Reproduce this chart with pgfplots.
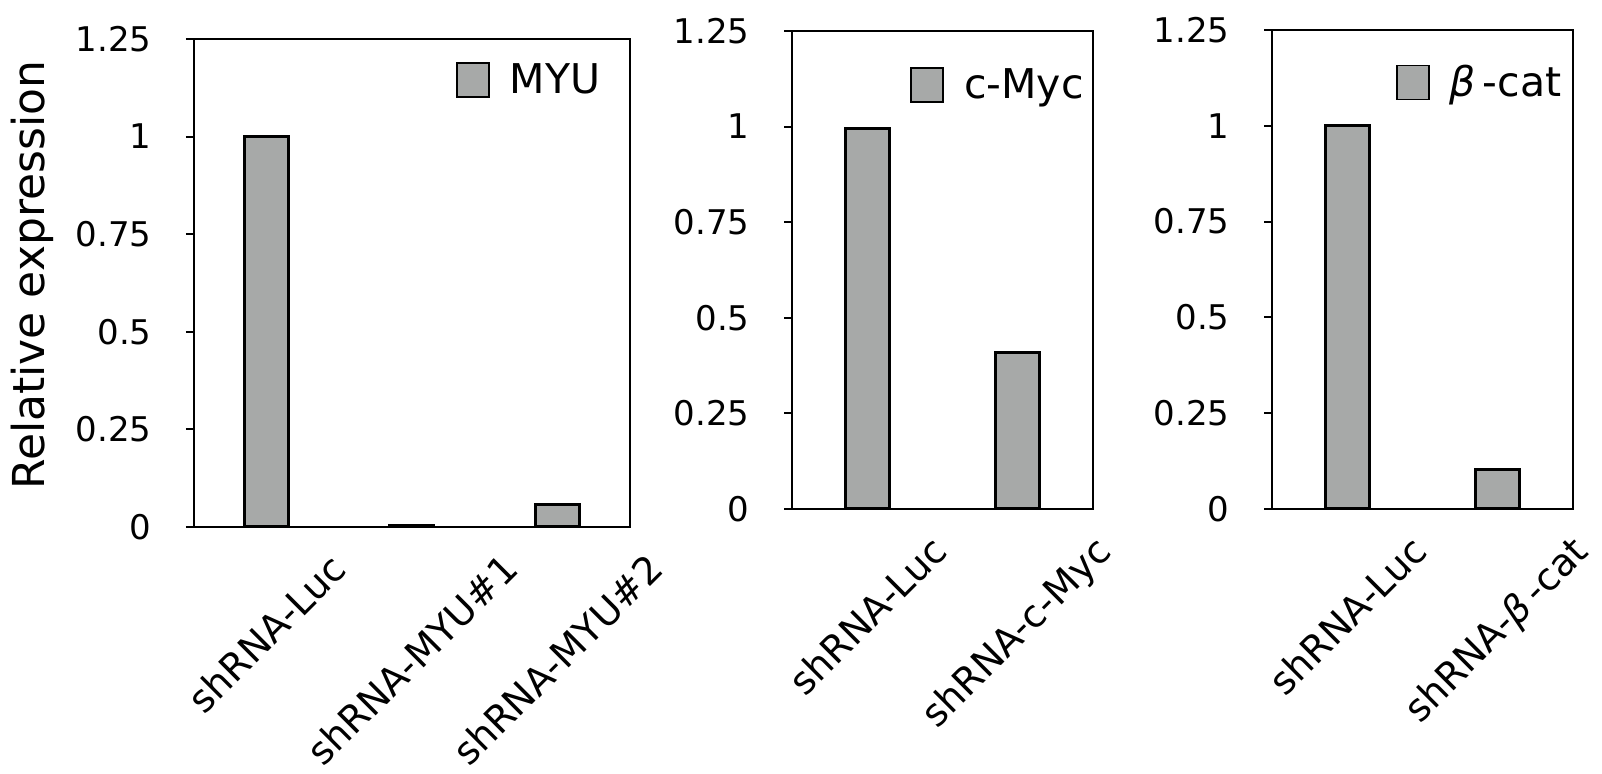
\documentclass[border=0pt]{standalone}
\usepackage{fontspec}
\setmainfont{DejaVu Sans}
\usepackage{graphicx}
\usepackage{pgfplots}
\pgfplotsset{compat=1.18}
\definecolor{barfill}{RGB}{167,169,168}

\pgfplotstableread{
x y
0 1.000
1 0.003
2 0.057
}\myudata
\pgfplotstableread{
x y
0 0.995
1 0.410
}\mycdata
\pgfplotstableread{
x y
0 1.000
1 0.102
}\bcatdata

\pgfplotsset{
  mylegend/.style={legend image code/.code={\draw[##1, line width=0.8pt] (0pt,-8.5pt) rectangle (16pt,8.5pt);}},
  panel/.style={
    scale only axis, anchor=south west,
    ybar, bar width=22pt,
    ymin=0, ymax=1.25,
    ytick={0,0.25,0.5,0.75,1,1.25},
    yticklabels={0,0.25,0.5,0.75,1,1.25},
    ytick pos=left, tick align=outside, major tick length=4pt,
    xtick=data, xtick style={draw=none},
    axis line style={line width=1pt},
    every tick/.style={line width=1pt, black},
    yticklabel style={font=\fontsize{17}{20}\selectfont, anchor=east, inner sep=0pt, xshift=-17pt},
    xticklabel style={font=\fontsize{19}{22}\selectfont, anchor=north, inner sep=0pt, yshift=-8pt},
    legend style={draw=none, fill=none, anchor=east, font=\fontsize{20.5}{24}\selectfont, inner sep=0pt, nodes={inner sep=0pt}, /tikz/every odd column/.append style={column sep=10pt}},
    mylegend,
  },
  barstyle/.style={fill=barfill, draw=black, line width=1.5pt},
}

\begin{document}
\begin{tikzpicture}
\path[use as bounding box] (0,0) rectangle (801pt,387pt);

\begin{axis}[panel, at={(97pt,123.5pt)}, width=218pt, height=244pt,
  xmin=-0.5, xmax=2.5,
  xticklabels={\rotatebox{45}{shRNA-Luc}, \rotatebox{45}{shRNA-MYU\#1}, \rotatebox{45}{shRNA-MYU\#2}},
  ylabel={Relative expression},
  every axis y label/.style={at={(rel axis cs:-0.3716,0.516)}, rotate=90, anchor=center, font=\fontsize{22}{26}\selectfont},
  legend style={at={(rel axis cs:0.933,0.916)}}]
\addplot[barstyle] table[x=x,y=y] {\myudata};
\addlegendentry{MYU}
\end{axis}

\begin{axis}[panel, at={(396pt,132.5pt)}, width=150.5pt, height=239pt,
  xmin=-0.5, xmax=1.5,
  xticklabels={\rotatebox{45}{shRNA-Luc}, \rotatebox{45}{shRNA-c-Myc}},
  legend style={at={(rel axis cs:0.970,0.887)}}]
\addplot[barstyle] table[x=x,y=y] {\mycdata};
\addlegendentry{c-Myc}
\end{axis}

\begin{axis}[panel, at={(636pt,132.5pt)}, width=150.5pt, height=239.5pt,
  xmin=-0.5, xmax=1.5,
  xticklabels={\rotatebox{45}{shRNA-Luc}, \rotatebox{45}{shRNA-\textit{β}\,-cat}},
  legend style={at={(rel axis cs:0.963,0.890)}}]
\addplot[barstyle] table[x=x,y=y] {\bcatdata};
\addlegendentry{\textit{β}\,-cat}
\end{axis}
\end{tikzpicture}
\end{document}
